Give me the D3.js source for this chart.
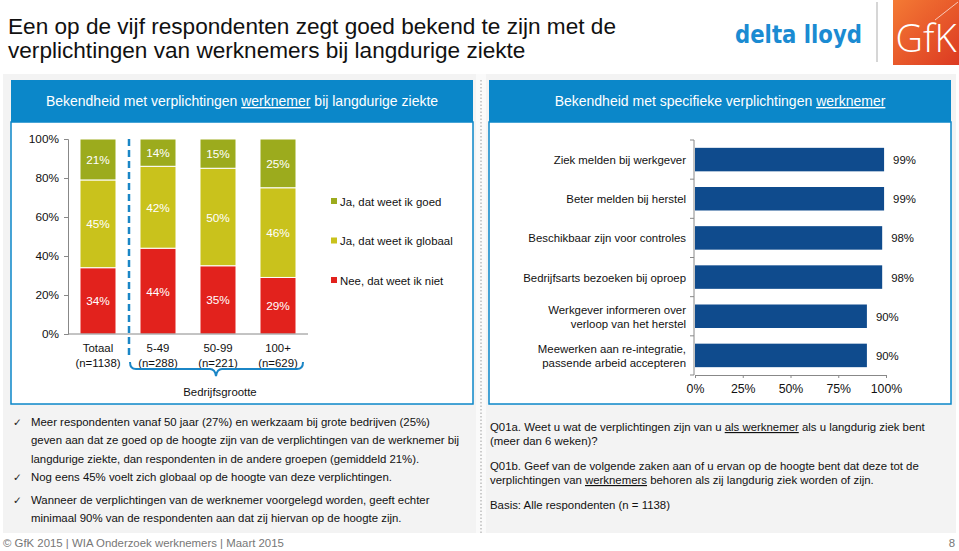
<!DOCTYPE html>
<html><head><meta charset="utf-8">
<script src="https://cdn.jsdelivr.net/npm/d3@7"></script>
<style>
html,body{margin:0;padding:0;background:#fff;}
svg{display:block;font-family:Arial,"Liberation Sans",sans-serif;}
</style></head>
<body>
<svg id="chart" width="959" height="551"></svg>
<script>
// ---------- data ----------
const categories = ["Totaal", "5-49", "50-99", "100+"];
const categorySubs = ["(n=1138)", "(n=288)", "(n=221)", "(n=629)"];
const seriesNames = ["Nee, dat weet ik niet", "Ja, dat weet ik globaal", "Ja, dat weet ik goed"];
const nietValues = [34, 44, 35, 29];
const globaalValues = [45, 42, 50, 46];
const goedValues = [21, 14, 15, 25];
const yTicks = [0, 20, 40, 60, 80, 100];

const itemLabels = [
  ["Ziek melden bij werkgever"],
  ["Beter melden bij herstel"],
  ["Beschikbaar zijn voor controles"],
  ["Bedrijfsarts bezoeken bij oproep"],
  ["Werkgever informeren over", "verloop van het herstel"],
  ["Meewerken aan re-integratie,", "passende arbeid accepteren"]
];
const itemValues = [99, 99, 98, 98, 90, 90];
const xTicks = [0, 25, 50, 75, 100];

// ---------- styles ----------
const colors = {"Nee, dat weet ik niet": "#e2221d", "Ja, dat weet ik globaal": "#c9c21c", "Ja, dat weet ik goed": "#9cab1d"};
const blue = "#0b87c9";
const navy = "#0f4b8d";
const fs = 11.4;

const svg = d3.select("#chart");

// background
svg.append("rect").attr("x", 3).attr("y", 74).attr("width", 953).attr("height", 459).attr("fill", "#f3f3f3");

// title
const title = svg.append("text").attr("x", 8).attr("font-size", 22.6).attr("fill", "#111");
title.append("tspan").attr("x", 8).attr("y", 34).text("Een op de vijf respondenten zegt goed bekend te zijn met de");
title.append("tspan").attr("x", 8).attr("y", 58).text("verplichtingen van werknemers bij langdurige ziekte");

// logos
svg.append("text").attr("x", 735).attr("y", 43).attr("font-family", "'DejaVu Sans',sans-serif")
  .attr("font-weight", "bold").attr("font-size", 24).attr("fill", "#1b8bd2")
  .attr("textLength", 127).attr("lengthAdjust", "spacingAndGlyphs").text("delta lloyd");
svg.append("line").attr("x1", 877).attr("x2", 877).attr("y1", 2).attr("y2", 62).attr("stroke", "#c8c8c8").attr("stroke-width", 1.5);
const defs = svg.append("defs");
const grad = defs.append("linearGradient").attr("id", "gfk").attr("x1", "0").attr("y1", "0").attr("x2", "1").attr("y2", "1");
grad.append("stop").attr("offset", "0").attr("stop-color", "#f47a34");
grad.append("stop").attr("offset", "1").attr("stop-color", "#dc3a22");
svg.append("rect").attr("x", 893).attr("y", 0).attr("width", 66).attr("height", 65).attr("fill", "url(#gfk)");
svg.append("path").attr("d", "M935,20 L958,2").attr("stroke", "#ffffffaa").attr("stroke-width", 1);
svg.append("text").attr("x", 926).attr("y", 52).attr("text-anchor", "middle").attr("font-size", 38)
  .attr("fill", "#fff").attr("font-family", "'Open Sans',sans-serif").attr("font-weight", 300).text("GfK");

// separator
svg.append("rect").attr("x", 476).attr("y", 74).attr("width", 10).attr("height", 459).attr("fill", "#fafafa");
svg.append("line").attr("x1", 481).attr("x2", 481).attr("y1", 80).attr("y2", 533)
  .attr("stroke", "#bdbdbd").attr("stroke-width", 1.5).attr("stroke-dasharray", "1.5,2");

// panels
function panel(x, w, headerParts) {
  svg.append("rect").attr("x", x).attr("y", 122).attr("width", w).attr("height", 282)
    .attr("fill", "#fff").attr("stroke", blue).attr("stroke-width", 1.5);
  svg.append("rect").attr("x", x).attr("y", 80).attr("width", w).attr("height", 42).attr("fill", blue);
  const t = svg.append("text").attr("x", x + w / 2).attr("y", 106).attr("text-anchor", "middle")
    .attr("font-size", 14).attr("fill", "#fff");
  headerParts.forEach(p => {
    const s = t.append("tspan").text(p.t);
    if (p.u) s.attr("text-decoration", "underline");
  });
}
panel(11, 462, [{t: "Bekendheid met verplichtingen "}, {t: "werknemer", u: true}, {t: " bij langdurige ziekte"}]);
panel(489, 462, [{t: "Bekendheid met specifieke verplichtingen "}, {t: "werknemer", u: true}]);

// ---------- left stacked chart ----------
const x = d3.scaleBand().domain(categories).range([68, 308]).paddingInner(0.4).paddingOuter(0.2);
const y = d3.scaleLinear().domain([0, 100]).range([334, 139]);

const rows = categories.map((c, i) => ({cat: c, "Nee, dat weet ik niet": nietValues[i], "Ja, dat weet ik globaal": globaalValues[i], "Ja, dat weet ik goed": goedValues[i]}));
const stacked = d3.stack().keys(seriesNames)(rows);

const gL = svg.append("g");
stacked.forEach(layer => {
  const g = gL.append("g");
  g.selectAll("rect").data(layer).join("rect")
    .attr("x", d => x(d.data.cat)).attr("width", x.bandwidth())
    .attr("y", d => y(d[1])).attr("height", d => y(d[0]) - y(d[1]))
    .attr("fill", colors[layer.key]).attr("stroke", "#fff").attr("stroke-width", 1);
  g.selectAll("text").data(layer).join("text")
    .attr("x", d => x(d.data.cat) + x.bandwidth() / 2)
    .attr("y", d => (y(d[0]) + y(d[1])) / 2 + 4.5)
    .attr("text-anchor", "middle").attr("font-size", 11.8).attr("fill", "#fff")
    .text(d => (d[1] - d[0]) + "%");
});

const yAxis = d3.axisLeft(y).tickValues(yTicks).tickFormat(d => d + "%").tickSize(4).tickPadding(5);
const ya = svg.append("g").attr("transform", "translate(68,0)").call(yAxis);
ya.select(".domain").attr("stroke", "#888");
ya.selectAll(".tick line").attr("stroke", "#888");
ya.selectAll("text").attr("font-size", 11.8).attr("fill", "#111").attr("font-family", "Arial,'Liberation Sans',sans-serif");

svg.append("line").attr("x1", 68).attr("x2", 308).attr("y1", y(0)).attr("y2", y(0)).attr("stroke", "#888");

categories.forEach((c, i) => {
  const cx = x(c) + x.bandwidth() / 2;
  svg.append("text").attr("x", cx).attr("y", 352).attr("text-anchor", "middle").attr("font-size", fs).attr("fill", "#111").text(c);
  svg.append("text").attr("x", cx).attr("y", 367).attr("text-anchor", "middle").attr("font-size", fs).attr("fill", "#111").text(categorySubs[i]);
});

// dashed divider
svg.append("line").attr("x1", 129).attr("x2", 129).attr("y1", 139).attr("y2", 358)
  .attr("stroke", "#1b86c6").attr("stroke-width", 2.5).attr("stroke-dasharray", "7,4");
// brace
svg.append("path").attr("d", "M130,362 Q130,369 136,369 L210,369 Q215,369 216,376 Q217,369 222,369 L297,369 Q303,369 303,362")
  .attr("fill", "none").attr("stroke", "#1b86c6").attr("stroke-width", 2);
svg.append("text").attr("x", 220).attr("y", 396).attr("text-anchor", "middle").attr("font-size", fs).attr("fill", "#111").text("Bedrijfsgrootte");

// legend
const legendOrder = ["Ja, dat weet ik goed", "Ja, dat weet ik globaal", "Nee, dat weet ik niet"];
legendOrder.forEach((k, i) => {
  const ly = 201 + i * 39.5;
  svg.append("rect").attr("x", 331).attr("y", ly - 3).attr("width", 6).attr("height", 6).attr("fill", colors[k]);
  svg.append("text").attr("x", 340).attr("y", ly + 4.5).attr("font-size", fs).attr("fill", "#111").text(k);
});

// ---------- right horizontal bar chart ----------
const idx = itemValues.map((d, i) => i);
const yb = d3.scaleBand().domain(idx).range([140, 375]).paddingInner(0.4).paddingOuter(0.2);
const xb = d3.scaleLinear().domain([0, 100]).range([695, 886]);

svg.append("g").selectAll("rect").data(idx).join("rect")
  .attr("x", xb(0)).attr("y", i => yb(i)).attr("height", yb.bandwidth())
  .attr("width", i => xb(itemValues[i]) - xb(0)).attr("fill", navy);
svg.append("g").selectAll("text").data(idx).join("text")
  .attr("x", i => xb(itemValues[i]) + 9).attr("y", i => yb(i) + yb.bandwidth() / 2 + 4.5)
  .attr("font-size", fs).attr("fill", "#111").text(i => itemValues[i] + "%");

// category labels
idx.forEach(i => {
  const lines = itemLabels[i];
  const cy = yb(i) + yb.bandwidth() / 2;
  lines.forEach((l, j) => {
    svg.append("text").attr("x", 686).attr("y", cy + 4.5 + (j - (lines.length - 1) / 2) * 14)
      .attr("text-anchor", "end").attr("font-size", fs).attr("fill", "#111").text(l);
  });
});

// axes
svg.append("line").attr("x1", 694).attr("x2", 694).attr("y1", 140).attr("y2", 375).attr("stroke", "#888");
d3.range(7).forEach(k => {
  const ty = 140 + k * (235 / 6);
  svg.append("line").attr("x1", 690).attr("x2", 694).attr("y1", ty).attr("y2", ty).attr("stroke", "#888");
});
const xAxis = d3.axisBottom(xb).tickValues(xTicks).tickFormat(d => d + "%").tickSize(3).tickPadding(6);
const xa = svg.append("g").attr("transform", "translate(0,375)").call(xAxis);
xa.select(".domain").attr("stroke", "#888");
xa.selectAll(".tick line").attr("stroke", "#888");
xa.selectAll("text").attr("font-size", 12.3).attr("fill", "#111").attr("font-family", "Arial,'Liberation Sans',sans-serif");

// ---------- bottom texts ----------
const bullets = [
  ["Meer respondenten vanaf 50 jaar (27%) en werkzaam bij grote bedrijven (25%)",
   "geven aan dat ze goed op de hoogte zijn van de verplichtingen van de werknemer bij",
   "langdurige ziekte, dan respondenten in de andere groepen (gemiddeld 21%)."],
  ["Nog eens 45% voelt zich globaal op de hoogte van deze verplichtingen."],
  ["Wanneer de verplichtingen van de werknemer voorgelegd worden, geeft echter",
   "minimaal 90% van de respondenten aan dat zij hiervan op de hoogte zijn."]
];
const bulletY = [426, 481, 504];
bullets.forEach((b, i) => {
  svg.append("text").attr("x", 13).attr("y", bulletY[i]).attr("font-size", 10.5)
    .attr("font-family", "'DejaVu Sans',sans-serif").attr("fill", "#222").text("✓");
  b.forEach((l, j) => {
    svg.append("text").attr("x", 31).attr("y", bulletY[i] + j * 18.3).attr("font-size", fs).attr("fill", "#111").text(l);
  });
});

const q = svg.append("g").attr("font-size", fs).attr("fill", "#111");
const q1 = q.append("text").attr("x", 490).attr("y", 431);
q1.append("tspan").text("Q01a. Weet u wat de verplichtingen zijn van u ");
q1.append("tspan").attr("text-decoration", "underline").text("als werknemer");
q1.append("tspan").text(" als u langdurig ziek bent");
q.append("text").attr("x", 490).attr("y", 445).text("(meer dan 6 weken)?");
q.append("text").attr("x", 490).attr("y", 470).text("Q01b. Geef van de volgende zaken aan of u ervan op de hoogte bent dat deze tot de");
const q2 = q.append("text").attr("x", 490).attr("y", 484);
q2.append("tspan").text("verplichtingen van ");
q2.append("tspan").attr("text-decoration", "underline").text("werknemers");
q2.append("tspan").text(" behoren als zij langdurig ziek worden of zijn.");
q.append("text").attr("x", 490).attr("y", 509).text("Basis: Alle respondenten (n = 1138)");

// footer
svg.append("text").attr("x", 3).attr("y", 547).attr("font-size", fs).attr("fill", "#777")
  .text("© GfK 2015 | WIA Onderzoek werknemers | Maart 2015");
svg.append("text").attr("x", 955).attr("y", 547).attr("text-anchor", "end").attr("font-size", fs).attr("fill", "#777").text("8");
</script>
</body></html>
